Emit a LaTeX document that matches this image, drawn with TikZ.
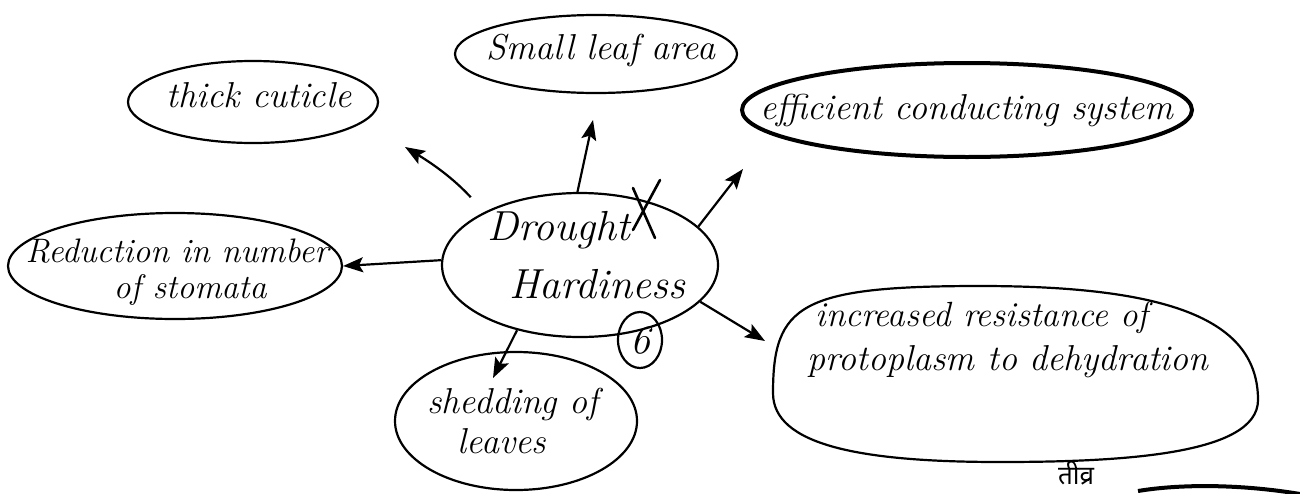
\documentclass[tikz,border=0pt]{standalone}
\usepackage{fontspec}
\newfontfamily\devfont[Script=Devanagari]{Noto Sans}
\usetikzlibrary{shapes.geometric,arrows.meta}
\begin{document}
\begin{tikzpicture}[x=0.5pt,y=-0.5pt,
  bubble/.style={ellipse,draw,line width=1.1pt,inner sep=0pt},
  txt/.style={font=\fontsize{18}{20}\selectfont\itshape,inner sep=0pt},
  arr/.style={line width=1.1pt,-{Stealth[length=10pt,width=7.5pt,inset=2pt]}},
  pen/.style={line width=1.3pt,line cap=round}]
\clip (0,0) rectangle (1300,493);
\fill[white] (0,0) rectangle (1300,493);

% bubbles
\node[bubble,minimum width=138pt,minimum height=72pt] (hub) at (580,265) {};
\node[bubble,minimum width=125pt,minimum height=41pt] (cuticle) at (253,102) {};
\node[bubble,minimum width=141pt,minimum height=39pt] (leaf) at (596,54) {};
\node[bubble,line width=2pt,minimum width=225pt,minimum height=47pt] (eff) at (967,110) {};
\node[bubble,minimum width=167pt,minimum height=53pt] (red) at (175,266) {};
\node[bubble,minimum width=121pt,minimum height=69pt] (shed) at (516,421) {};
\node[bubble,minimum width=22pt,minimum height=28pt] (six) at (640,340) {};

% the wide, flattened oval on the right
\draw[line width=1.1pt] (773,393)
  .. controls (773,305) and (800,286) .. (980,286)
  .. controls (1170,286) and (1258,320) .. (1258,400)
  .. controls (1258,455) and (1120,462) .. (1000,462)
  .. controls (860,462) and (773,445) .. cycle;

% labels
\node[txt,font=\fontsize{21}{23}\selectfont\itshape] (t1) at (559,230) {Drought};
\node[txt,font=\fontsize{21}{23}\selectfont\itshape] (t2) at (597,284) {Hardiness};
\node[txt,font=\fontsize{20}{22}\selectfont\itshape] (t6) at (640,341) {6};
\node[txt] (tc) at (259,95) {thick cuticle};
\node[txt] (tl) at (601,50) {Small leaf area};
\node[txt] (te) at (967,110) {efficient conducting system};
\node[txt,font=\fontsize{17}{19}\selectfont\itshape] (tr1) at (177,251) {Reduction in number};
\node[txt,font=\fontsize{17}{19}\selectfont\itshape] (tr2) at (190,290) {of stomata};
\node[txt,font=\fontsize{17.5}{19}\selectfont\itshape] (ti1) at (982,318) {increased resistance of};
\node[txt] (ti2) at (1008,362) {protoplasm to dehydration};
\node[txt] (ts1) at (513,404) {shedding of};
\node[txt] (ts2) at (502,441) {leaves};
\node[font=\devfont\fontsize{13}{15}\selectfont,anchor=south,inner sep=0pt] (hin) at (1076,486) {तीव्र};

% cross mark on the hub
\draw[pen] (660,180) -- (633,230);
\draw[pen] (633,188) -- (655,238);

% arrow tips
\coordinate (tipCut) at (405,147);
\coordinate (tipLeaf) at (593,120);
\coordinate (tipEff) at (743,169);
\coordinate (tipInc) at (765,341);
\coordinate (tipShed) at (493,378);

% connectors
\draw[arr,shorten <=10pt] (hub.151) to[bend right=8] (tipCut);
\draw[arr] (hub.92) -- (tipLeaf);
\draw[arr] (hub.18) -- (tipEff);
\draw[arr] (hub.178) -- (red.east);
\draw[arr] (hub.-17) -- (tipInc);
\draw[arr] (hub.226) -- (tipShed);

% stroke cut off at the lower edge
\draw[line width=2pt] (1138,491) .. controls (1180,484) and (1240,484) .. (1300,494);
\end{tikzpicture}
\end{document}
